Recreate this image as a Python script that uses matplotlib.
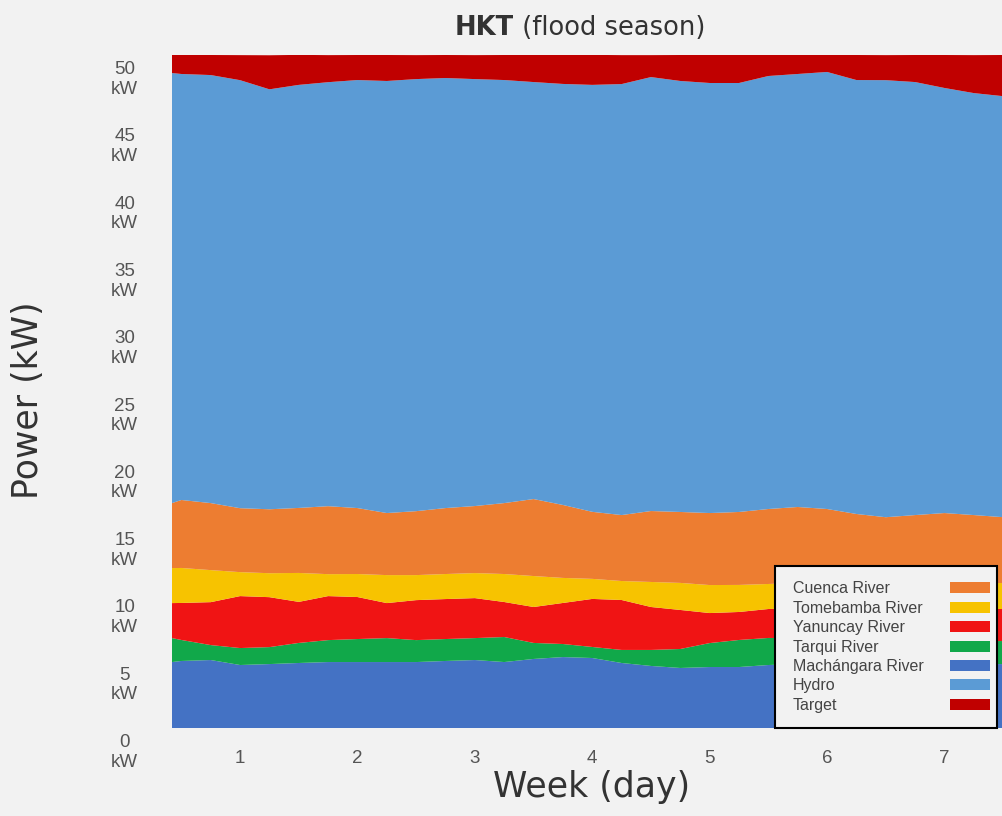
import matplotlib
matplotlib.use("Agg")
import matplotlib.pyplot as plt
import matplotlib.transforms as mtransforms
from matplotlib.patches import Patch

# ---------------- data ----------------
days = [0.42, 0.5, 0.75, 1.0, 1.25, 1.5, 1.75, 2.0, 2.25, 2.5, 2.75, 3.0, 3.25, 3.5,
        3.75, 4.0, 4.25, 4.5, 4.75, 5.0, 5.25, 5.5, 5.75, 6.0, 6.25, 6.5, 6.75, 7.0,
        7.25, 7.49]

machangara = [4.90, 4.98, 5.05, 4.68, 4.75, 4.83, 4.90, 4.90, 4.90, 4.90, 4.98, 5.05,
              4.90, 5.13, 5.27, 5.20, 4.83, 4.61, 4.46, 4.53, 4.53, 4.68, 4.75, 4.83,
              4.83, 4.75, 4.75, 4.75, 4.75, 4.75]
tarqui = [1.78, 1.56, 1.11, 1.26, 1.26, 1.49, 1.63, 1.71, 1.78, 1.63, 1.63, 1.63,
          1.86, 1.19, 0.97, 0.82, 0.97, 1.19, 1.41, 1.78, 2.01, 2.01, 1.93, 1.78,
          1.71, 1.78, 1.71, 1.71, 1.71, 1.71]
yanuncay = [2.60, 2.75, 3.19, 3.86, 3.71, 3.05, 3.27, 3.12, 2.60, 2.97, 2.97, 2.97,
            2.60, 2.67, 3.05, 3.57, 3.71, 3.19, 2.90, 2.23, 2.08, 2.15, 2.23, 2.30,
            2.30, 2.30, 2.38, 2.38, 2.38, 2.38]
tomebamba = [2.60, 2.60, 2.38, 1.78, 1.78, 2.15, 1.63, 1.71, 2.08, 1.86, 1.86, 1.86,
             2.08, 2.30, 1.86, 1.49, 1.41, 1.86, 2.01, 2.08, 2.01, 1.86, 1.86, 1.86,
             1.93, 1.93, 1.93, 1.93, 1.93, 1.93]
cuenca = [4.83, 5.05, 4.98, 4.75, 4.75, 4.83, 5.05, 4.90, 4.61, 4.75, 4.90, 4.98,
          5.27, 5.72, 5.42, 4.98, 4.90, 5.27, 5.27, 5.35, 5.42, 5.57, 5.65, 5.50,
          5.13, 4.90, 5.05, 5.20, 5.05, 4.90]
hydro = [31.95, 31.65, 31.80, 31.80, 31.20, 31.43, 31.50, 31.80, 32.10, 32.10, 31.95,
         31.72, 31.43, 30.98, 31.28, 31.72, 32.02, 32.24, 32.02, 31.95, 31.87, 32.17,
         32.17, 32.47, 32.24, 32.47, 32.17, 31.58, 31.35, 31.28]
target = [1.34, 1.41, 1.49, 1.86, 2.53, 2.23, 2.01, 1.86, 1.93, 1.78, 1.71, 1.78,
          1.86, 2.01, 2.15, 2.23, 2.15, 1.63, 1.93, 2.08, 2.08, 1.56, 1.41, 1.26,
          1.86, 1.86, 2.01, 2.45, 2.82, 3.05]

series_names = ["Machángara River", "Tarqui River", "Yanuncay River",
                "Tomebamba River", "Cuenca River", "Hydro", "Target"]
legend_order = ["Cuenca River", "Tomebamba River", "Yanuncay River", "Tarqui River",
                "Machángara River", "Hydro", "Target"]
x_ticks = [1, 2, 3, 4, 5, 6, 7]
y_ticks = [0, 5, 10, 15, 20, 25, 30, 35, 40, 45, 50]
y_tick_labels = [f"{v}\nkW" for v in y_ticks]

colors = {
    "Machángara River": "#4472c4",
    "Tarqui River": "#11a84a",
    "Yanuncay River": "#f01414",
    "Tomebamba River": "#f7c300",
    "Cuenca River": "#ed7d31",
    "Hydro": "#5b9bd5",
    "Target": "#c00000",
}

# ---------------- figure ----------------
W, H = 1002, 816
fig = plt.figure(figsize=(W / 100, H / 100), dpi=100, facecolor="#f2f2f2")
ax = fig.add_axes([172 / W, 1 - 728 / H, 1 - 172 / W, (728 - 55) / H])
ax.set_facecolor("#f2f2f2")

values = [machangara, tarqui, yanuncay, tomebamba, cuenca, hydro, target]
ax.stackplot(days, *values, colors=[colors[n] for n in series_names],
             labels=series_names, linewidth=0)

ax.set_xlim(0.42, 7.49)
ax.set_ylim(0, 50)
for s in ax.spines.values():
    s.set_visible(False)

ax.set_xticks(x_ticks)
ax.set_xticklabels([str(v) for v in x_ticks])
ax.set_yticks(y_ticks)
ax.set_yticklabels(y_tick_labels)
ax.tick_params(axis="both", length=0, colors="#555555", labelsize=13.5)
ax.tick_params(axis="x", pad=16)
ax.tick_params(axis="y", pad=34)
for lab in ax.get_xticklabels() + ax.get_yticklabels():
    lab.set_fontfamily("Liberation Sans")
off = mtransforms.ScaledTranslation(0, -6 / 100, fig.dpi_scale_trans)
for lab in ax.get_yticklabels():
    lab.set_ha("center")
    lab.set_va("top")
    lab.set_transform(lab.get_transform() + off)

# legend
handles = [Patch(facecolor=colors[n], edgecolor="none") for n in legend_order]
leg = ax.legend(handles, legend_order, loc="lower right",
                bbox_to_anchor=(825 / 830, 0.0), bbox_transform=ax.transAxes,
                borderaxespad=0, frameon=True, fancybox=False, edgecolor="black",
                facecolor="#f2f2f2", framealpha=1, markerfirst=False,
                prop={"family": "Liberation Sans", "size": 11.5}, labelcolor="#444444",
                handlelength=2.5, handleheight=0.68, labelspacing=0.275,
                borderpad=0.95, handletextpad=1.0)
leg.get_frame().set_linewidth(1.5)
for col in leg._legend_handle_box.get_children():
    col.align = "left"
    for item in col.get_children():
        item.mode = "expand"
        item.width = 192
for t in leg.get_texts():
    t.set_x(3)
for h in leg.legend_handles:
    h.set_x(h.get_x() + 5.76)

# axis labels
fig.text(28 / W, 1 - 400 / H, "Power (kW)", rotation=90, ha="center", va="center",
         fontsize=25, family="DejaVu Sans", color="#333333")
fig.text(592 / W, 1 - 797 / H, "Week (day)", ha="center", va="baseline",
         fontsize=25, family="DejaVu Sans", color="#333333")

# title (bold part + regular part)
fig.canvas.draw()
r = fig.canvas.get_renderer()
yb = 1 - 35 / H
t1 = fig.text(0, yb, "HKT", fontweight="bold", fontsize=18.5, family="DejaVu Sans",
              color="#333333", va="baseline")
t2 = fig.text(0, yb, " (flood season)", fontsize=18.5, family="DejaVu Sans",
              color="#333333", va="baseline")
w1 = t1.get_window_extent(r).width
w2 = t2.get_window_extent(r).width
x0 = 580 - (w1 + w2) / 2
t1.set_x(x0 / W)
t2.set_x((x0 + w1) / W)

fig.savefig("out.png", dpi=100, facecolor=fig.get_facecolor())
